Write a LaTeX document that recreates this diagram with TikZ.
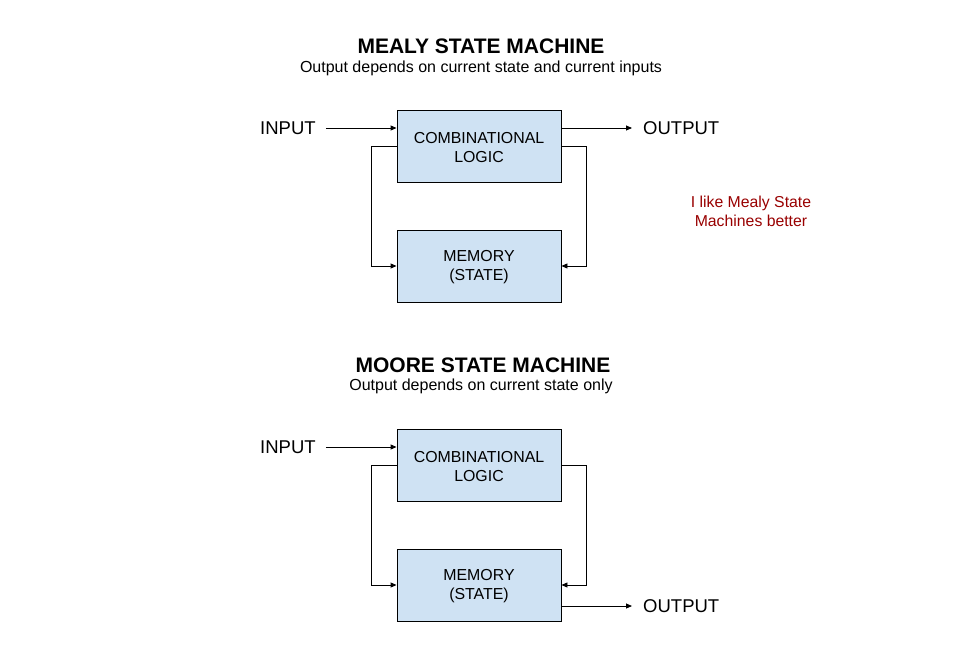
\documentclass[tikz,border=0pt]{standalone}
\usepackage{fontspec}
\setmainfont{Liberation Sans}
\usetikzlibrary{arrows.meta}
\definecolor{boxfill}{HTML}{CFE2F3}
\definecolor{noteRed}{HTML}{990000}
\begin{document}
\begin{tikzpicture}[x=1pt,y=1pt,
  blk/.style={draw=black, line width=0.9pt, fill=boxfill, minimum width=164pt, minimum height=72pt, inner sep=0pt, align=center, font=\fontsize{15.9}{19}\selectfont},
  lbl/.style={inner sep=0pt, anchor=west, font=\fontsize{18.5}{21}\selectfont},
  ttl/.style={inner sep=0pt, font=\fontsize{21}{24}\selectfont\bfseries},
  sub/.style={inner sep=0pt, font=\fontsize{16}{19}\selectfont},
  arr/.style={line width=0.9pt, -{Triangle[length=6pt,width=5pt]}},
  ln/.style={line width=0.9pt}]
\useasboundingbox[fill=white] (0,0) rectangle (958,-658);

% Mealy
\node[ttl] (t1) at (481,-46) {MEALY STATE MACHINE};
\node[sub] (s1) at (481,-68.5) {Output depends on current state and current inputs};
\node[blk] (comb1) at (479,-146) {};
\node[align=center, inner sep=0pt, font=\fontsize{15.9}{19}\selectfont] (c1t) at (479,-147.5) {COMBINATIONAL\\LOGIC};
\node[blk] (mem1) at (479,-266) {};
\node[align=center, inner sep=0pt, font=\fontsize{15.9}{19}\selectfont] (m1t) at (479,-267.5) {MEMORY\\(STATE)};
\node[lbl] (in1) at (260,-128) {INPUT};
\node[lbl] (out1) at (643,-128) {OUTPUT};
\draw[arr] ([xshift=10pt]in1.east) -- (comb1.west |- in1.east);
\draw[arr] (comb1.east |- out1.west) -- ([xshift=-11pt]out1.west);
\draw[arr] (comb1.west) -- ++(-25,0) |- (mem1.west);
\draw[arr] (comb1.east) -- ++(25,0) |- (mem1.east);
\node[align=center, inner sep=0pt, text=noteRed, font=\fontsize{15.8}{19}\selectfont] (note) at (751,-211) {I like Mealy State\\Machines better};

% Moore
\node[ttl] (t2) at (483,-365) {MOORE STATE MACHINE};
\node[sub] (s2) at (481,-386.5) {Output depends on current state only};
\node[blk] (comb2) at (479,-465) {};
\node[align=center, inner sep=0pt, font=\fontsize{15.9}{19}\selectfont] (c2t) at (479,-466.5) {COMBINATIONAL\\LOGIC};
\node[blk] (mem2) at (479,-585) {};
\node[align=center, inner sep=0pt, font=\fontsize{15.9}{19}\selectfont] (m2t) at (479,-586.5) {MEMORY\\(STATE)};
\node[lbl] (in2) at (260,-447) {INPUT};
\node[lbl] (out2) at (643,-606) {OUTPUT};
\draw[arr] ([xshift=10pt]in2.east) -- (comb2.west |- in2.east);
\draw[arr] (mem2.east |- out2.west) -- ([xshift=-11pt]out2.west);
\draw[arr] (comb2.west) -- ++(-25,0) |- (mem2.west);
\draw[arr] (comb2.east) -- ++(25,0) |- (mem2.east);
\end{tikzpicture}
\end{document}
